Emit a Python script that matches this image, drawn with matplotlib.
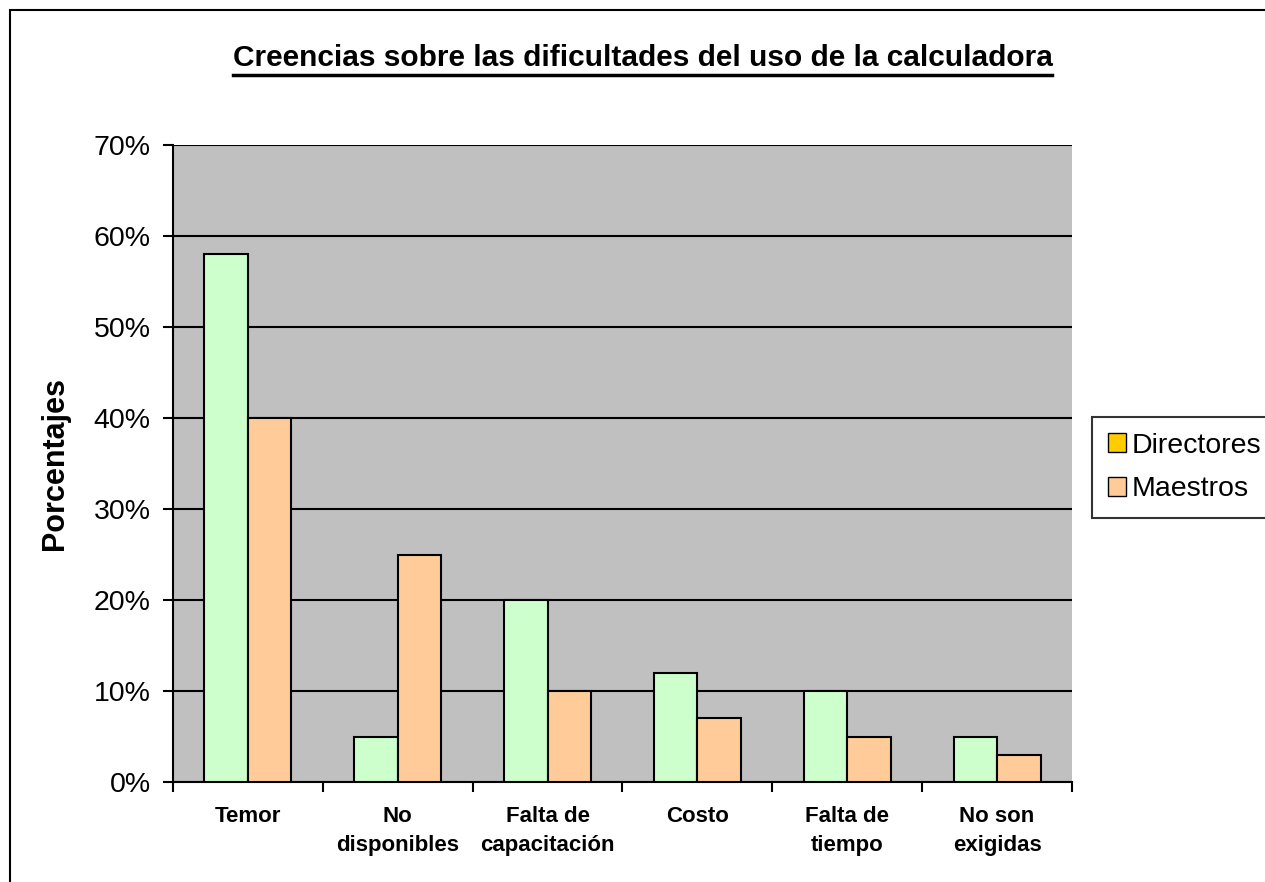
import matplotlib.pyplot as plt
import numpy as np
from matplotlib.patches import Patch, Rectangle
from matplotlib.lines import Line2D

plt.rcParams['font.family'] = ['Liberation Sans', 'DejaVu Sans']

categories = ['Temor', 'No\ndisponibles', 'Falta de\ncapacitación', 'Costo', 'Falta de\ntiempo', 'No son\nexigidas']
directores = [58, 5, 20, 12, 10, 5]
maestros = [40, 25, 10, 7, 5, 3]
series_names = ['Directores', 'Maestros']
yticks = [0, 10, 20, 30, 40, 50, 60, 70]

fig = plt.figure(figsize=(12.65, 8.82), dpi=100)
ax = fig.add_axes([173 / 1265, 1 - 782 / 882, (1072 - 173) / 1265, (782 - 145) / 882])
ax.set_facecolor('#C0C0C0')

x = np.arange(len(categories))
w = 0.29
ax.bar(x - w / 2, directores, w, color='#CCFFCC', edgecolor='black', linewidth=1.5, zorder=3)
ax.bar(x + w / 2, maestros, w, color='#FFCC99', edgecolor='black', linewidth=1.5, zorder=3)

ax.set_xlim(-0.5, len(categories) - 0.5)
ax.set_ylim(0, 70)
ax.set_yticks(yticks)
ax.set_yticklabels([f'{v}%' for v in yticks], fontsize=20.5)
ax.yaxis.grid(True, color='black', linewidth=1.5, zorder=1)
ax.set_axisbelow(True)

# category labels between boundary ticks
ax.set_xticks(np.arange(len(categories) + 1) - 0.5)
ax.set_xticklabels([])
ax.set_xticks(x, minor=True)
ax.set_xticklabels(categories, minor=True, fontsize=16, fontweight='bold', linespacing=1.45)
ax.tick_params(axis='x', which='minor', length=0, pad=17.5)
ax.tick_params(axis='x', which='major', length=7, width=1.5, direction='out')
ax.tick_params(axis='y', length=7, width=1.5, direction='out', pad=9)

for s in ['top', 'right']:
    ax.spines[s].set_visible(False)
for s in ['left', 'bottom']:
    ax.spines[s].set_linewidth(1.5)

ax.set_ylabel('Porcentajes', fontsize=22, fontweight='bold', labelpad=17)

handles = [Patch(facecolor='#FFCC00', edgecolor='black'),
           Patch(facecolor='#FFCC99', edgecolor='black')]
leg = fig.legend(handles, series_names, loc='upper left',
                 bbox_to_anchor=(1092 / 1265, 1 - 417 / 882), fontsize=20.5,
                 frameon=True, fancybox=False, edgecolor='black',
                 handlelength=0.65, handleheight=0.65, handletextpad=0.2,
                 borderpad=0.55, labelspacing=0.62, borderaxespad=0)
leg.get_frame().set_linewidth(1.5)

title = fig.text(0.5 * (235 + 1050) / 1265, 1 - 58 / 882,
                 'Creencias sobre las dificultades del uso de la calculadora',
                 ha='center', va='center', fontsize=21.5, fontweight='bold')

# underline the title
fig.canvas.draw()
bb = title.get_window_extent().transformed(fig.transFigure.inverted())
fig.add_artist(Line2D([bb.x0, bb.x1], [bb.y0 - 0.003, bb.y0 - 0.003],
                      color='black', linewidth=2.5, transform=fig.transFigure))

# outer chart frame
fig.add_artist(Rectangle((10 / 1265, -0.1), 1.2, 1.1 - 10 / 882,
                         fill=False, edgecolor='black', linewidth=1.5,
                         transform=fig.transFigure, clip_on=False))

fig.savefig('out.png', dpi=100)
